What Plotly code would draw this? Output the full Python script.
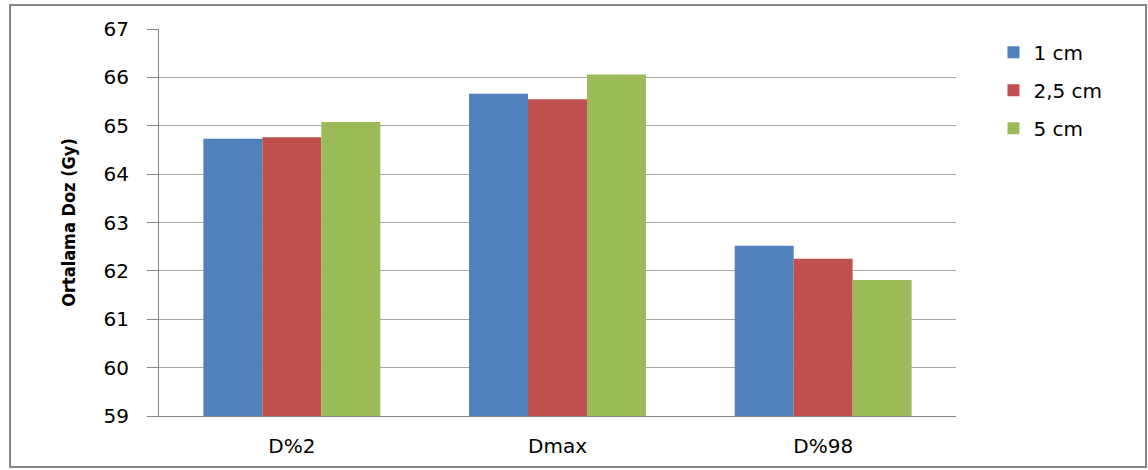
import plotly.graph_objects as go

categories = ["D%2", "Dmax", "D%98"]
series_names = ["1 cm", "2,5 cm", "5 cm"]
vals_1cm = [64.73, 65.66, 62.52]
vals_25cm = [64.76, 65.55, 62.25]
vals_5cm = [65.08, 66.06, 61.81]
colors = ["#4F81BD", "#C0504D", "#9BBB59"]
y_ticks = [59, 60, 61, 62, 63, 64, 65, 66, 67]

fig = go.Figure()
for i, (name, vals) in enumerate(zip(series_names, [vals_1cm, vals_25cm, vals_5cm])):
    fig.add_trace(go.Bar(
        x=categories, y=vals, name=name, marker_color=colors[i],
        marker_line_width=0, legendgroup=name,
    ))

fig.update_layout(
    width=1148, height=470,
    paper_bgcolor="white", plot_bgcolor="white",
    margin=dict(l=159, r=192, t=29, b=54),
    barmode="group", bargap=0.334, bargroupgap=0,
    font=dict(family="DejaVu Sans, Verdana, sans-serif", size=20, color="#000000"),
    legend=dict(x=1.047, y=0.99, xanchor="left", yanchor="top",
                traceorder="grouped", tracegroupgap=9,
                font=dict(size=20), bgcolor="rgba(0,0,0,0)"),
    xaxis=dict(showline=True, linecolor="#868686", linewidth=1,
               ticks="", tickfont=dict(size=20), showgrid=False,
               ticklabelstandoff=12),
    yaxis=dict(range=[59, 67], tickvals=y_ticks, showgrid=True,
               gridcolor="#a6a6a6", gridwidth=1, showline=True,
               linecolor="#868686", linewidth=1, ticks="outside",
               ticklen=11, tickcolor="#868686", tickfont=dict(size=20),
               ticklabelstandoff=14, zeroline=False,
               title=dict(text="<b>Ortalama Doz (Gy)</b>", standoff=23,
                          font=dict(family="Liberation Sans Narrow, Arial Narrow, DejaVu Sans Condensed, sans-serif", size=18))),
    shapes=[dict(type="rect", xref="paper", yref="paper",
                 x0=(10 - 159) / 797, x1=(1146 - 159) / 797,
                 y0=(416 - 467) / 387, y1=(416 - 5) / 387,
                 line=dict(color="#868686", width=2), layer="below")],
)

fig.write_html("out.html")
